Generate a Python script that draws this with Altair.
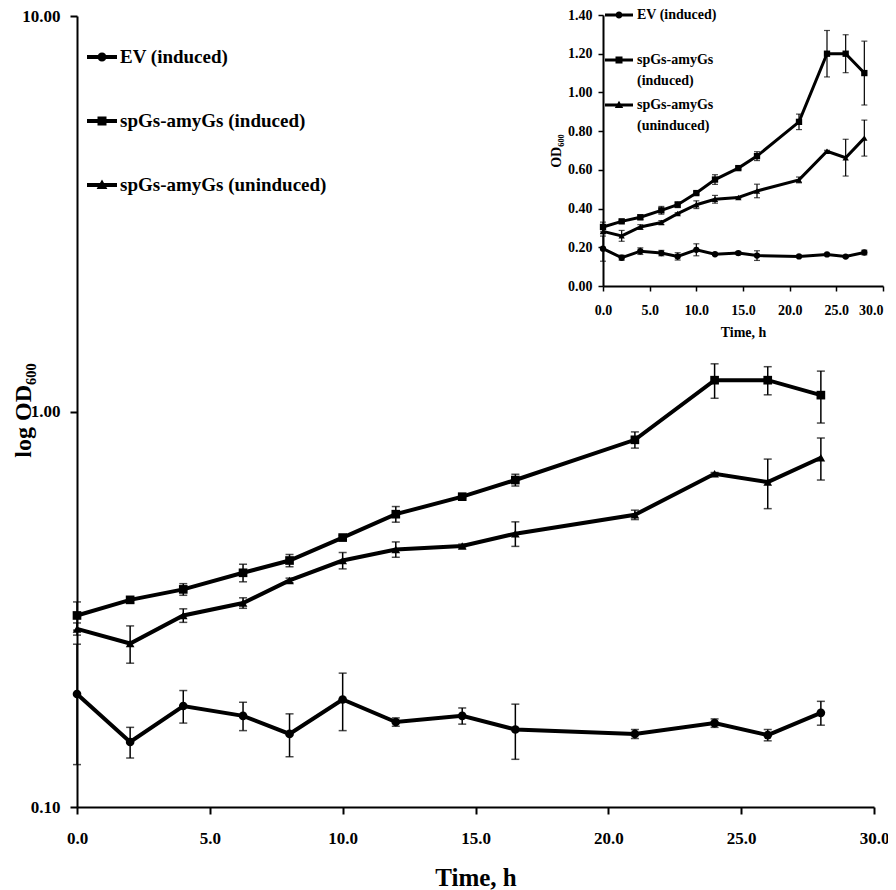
import altair as alt
import pandas as pd

# ---------------- data ----------------
times = [0, 2, 4, 6.25, 8, 10, 12, 14.5, 16.5, 21, 24, 26, 28]
series_names = ["EV (induced)", "spGs-amyGs (induced)", "spGs-amyGs (uninduced)"]

ev_od = [0.193, 0.146, 0.180, 0.170, 0.153, 0.187, 0.164, 0.170, 0.157, 0.153, 0.163, 0.152, 0.173]
ev_err = [0.065, 0.013, 0.017, 0.014, 0.019, 0.031, 0.004, 0.008, 0.025, 0.004, 0.004, 0.005, 0.012]

ind_od = [0.305, 0.334, 0.355, 0.391, 0.420, 0.480, 0.550, 0.609, 0.671, 0.848, 1.200, 1.200, 1.100]
ind_err = [0.025, 0.006, 0.012, 0.020, 0.015, 0.006, 0.025, 0.006, 0.023, 0.040, 0.120, 0.098, 0.165]

unind_od = [0.282, 0.259, 0.305, 0.328, 0.374, 0.420, 0.448, 0.457, 0.491, 0.548, 0.696, 0.663, 0.764]
unind_err = [0.010, 0.028, 0.012, 0.010, 0.005, 0.020, 0.020, 0.005, 0.035, 0.015, 0.005, 0.095, 0.093]

main_x_ticks = [0, 5, 10, 15, 20, 25, 30]
main_y_ticks = [0.1, 1, 10]
inset_y_ticks = [0, 0.2, 0.4, 0.6, 0.8, 1.0, 1.2, 1.4]

rows = []
for name, vals, errs in zip(series_names, [ev_od, ind_od, unind_od], [ev_err, ind_err, unind_err]):
    for t, v, e in zip(times, vals, errs):
        rows.append({"time": t, "od": v, "lo": v - e, "hi": v + e, "series": name})
df = pd.DataFrame(rows)

# ---------------- layout / style ----------------
FONT = "Liberation Serif"
W, H = 797, 791
IX = [526, 806]      # inset x range (px inside main plot area)
IY = [270, -1]       # inset y range

def ax(**kw):
    d = dict(labelFont=FONT, labelFontWeight="bold", labelColor="black",
             titleFont=FONT, titleFontWeight="bold", titleColor="black",
             domainColor="black", tickColor="black", grid=False)
    d.update(kw)
    return alt.Axis(**d)

main_x_axis = ax(values=main_x_ticks, format=".1f", labelFontSize=17, tickSize=7, tickWidth=2,
                 domainWidth=2, labelPadding=24, labelBaseline="middle", labelFlush=False,
                 title="Time, h", titleFontSize=25, titleX=W / 2, titleY=78,
                 titleBaseline="alphabetic", titleAlign="center")
main_y_axis = ax(values=main_y_ticks, format=".2f", labelFontSize=17, tickSize=7, tickWidth=2,
                 domainWidth=2, labelPadding=10, labelFlush=False,
                 title="log OD₆₀₀", titleFontSize=24, titleAngle=270, titleX=-47, titleY=394,
                 titleBaseline="alphabetic", titleAlign="center")

inset_x_axis = ax(orient="bottom", offset=IY[0] - H, values=main_x_ticks, format=".1f",
                  labelFontSize=14, tickSize=5, tickWidth=1.5, domainWidth=2, labelPadding=19,
                  labelBaseline="middle", labelFlush=False,
                  labelAlign={"condition": {"test": "datum.value >= 30", "value": "right"},
                              "value": "center"},
                  title="Time, h", titleFontSize=14,
                  titleX=(IX[0] + IX[1]) / 2, titleY=50, titleBaseline="alphabetic",
                  titleAlign="center")
inset_y_axis = ax(orient="left", offset=-IX[0], values=inset_y_ticks, format=".2f",
                  labelFontSize=14, tickSize=5, tickWidth=1.5, domainWidth=2, labelPadding=6,
                  labelFlush=False,
                  title="OD₆₀₀", titleFontSize=14, titleAngle=270, titleX=-43,
                  titleY=(IY[0] + IY[1]) / 2, titleBaseline="alphabetic", titleAlign="center")

# legend symbols: line with marker (unit square paths, all clockwise)
main_paths = [
    "M-1,-0.133H1V0.133H-1Z M-0.3,0A0.3,0.3,0,1,1,0.3,0A0.3,0.3,0,1,1,-0.3,0Z",
    "M-1,-0.133H1V0.133H-1Z M-0.3,-0.3H0.3V0.3H-0.3Z",
    "M-1,-0.133H1V0.133H-1Z M0,-0.36L0.36,0.27L-0.36,0.27Z",
]
inset_paths = [
    "M-1,-0.107H1V0.107H-1Z M-0.25,0A0.25,0.25,0,1,1,0.25,0A0.25,0.25,0,1,1,-0.25,0Z",
    "M-1,-0.107H1V0.107H-1Z M-0.25,-0.25H0.25V0.25H-0.25Z",
    "M-1,-0.107H1V0.107H-1Z M0,-0.3L0.3,0.22L-0.3,0.22Z",
]
marker_shapes = ["circle", "square", "triangle-up"]

label_expr = ("datum.label == 'spGs-amyGs (induced)' ? ['spGs-amyGs', '(induced)'] : "
              "datum.label == 'spGs-amyGs (uninduced)' ? ['spGs-amyGs', '(uninduced)'] : "
              "[datum.label, ' ']")

base = alt.Chart(df)


def group(xscale, yscale, xaxis, yaxis, lw, ew, cap, msize, paths, legend):
    X = alt.X("time:Q", scale=xscale, axis=xaxis)
    Yf = lambda f: alt.Y(f"{f}:Q", scale=yscale, axis=yaxis)
    rules = base.mark_rule(color="black", strokeWidth=ew).encode(x=X, y=Yf("lo"), y2="hi:Q")
    cap_lo = base.mark_tick(orient="horizontal", color="black", size=cap, thickness=ew).encode(x=X, y=Yf("lo"))
    cap_hi = base.mark_tick(orient="horizontal", color="black", size=cap, thickness=ew).encode(x=X, y=Yf("hi"))
    lines = base.mark_line(color="black", strokeWidth=lw).encode(x=X, y=Yf("od"), detail="series:N")
    leg = base.mark_point(filled=True, color="black", size=0, opacity=1).encode(
        x=X, y=Yf("od"),
        shape=alt.Shape("series:N", scale=alt.Scale(domain=series_names, range=paths), legend=legend))
    pts = base.mark_point(filled=True, color="black", size=msize, opacity=1).encode(
        x=X, y=Yf("od"),
        shape=alt.Shape("series:N", scale=alt.Scale(domain=series_names, range=marker_shapes), legend=None))
    return alt.layer(rules, cap_lo, cap_hi, lines, leg, pts).resolve_scale(shape="independent")


main_legend = alt.Legend(orient="none", legendX=10, legendY=26, title=None, symbolSize=900,
                         labelFont=FONT, labelFontSize=19, labelFontWeight="bold", labelColor="black",
                         labelOffset=3, rowPadding=39, padding=0, symbolStrokeWidth=0,
                         symbolFillColor="black", symbolOpacity=1, labelLimit=500)
inset_legend = alt.Legend(orient="none", legendX=528, legendY=-15, title=None, symbolSize=784,
                          labelFont=FONT, labelFontSize=14, labelFontWeight="bold", labelColor="black",
                          labelOffset=4, rowPadding=3, padding=0, symbolStrokeWidth=0,
                          symbolFillColor="black", symbolOpacity=1, labelLimit=500,
                          labelExpr=label_expr)

main = group(alt.Scale(domain=[0, 30], nice=False, zero=False),
             alt.Scale(type="log", domain=[0.1, 10], nice=False),
             main_x_axis, main_y_axis, 4, 1.5, 8, 75, main_paths, main_legend)
inset = group(alt.Scale(domain=[0, 30], nice=False, zero=False, range=IX),
              alt.Scale(domain=[0, 1.4], nice=False, zero=True, range=IY),
              inset_x_axis, inset_y_axis, 3, 1.2, 6, 40, inset_paths, inset_legend)

chart = (
    alt.layer(main, inset)
    .resolve_scale(x="independent", y="independent", shape="independent")
    .properties(width=W, height=H, autosize=alt.AutoSizeParams(type="none"),
                padding={"left": 69, "top": 8, "right": 14, "bottom": 83})
    .configure(style={"guide-label": {"lineHeight": 21}})
    .configure_view(stroke=None)
)

chart.save("out.html", embed_options={"renderer": "svg", "actions": False})
